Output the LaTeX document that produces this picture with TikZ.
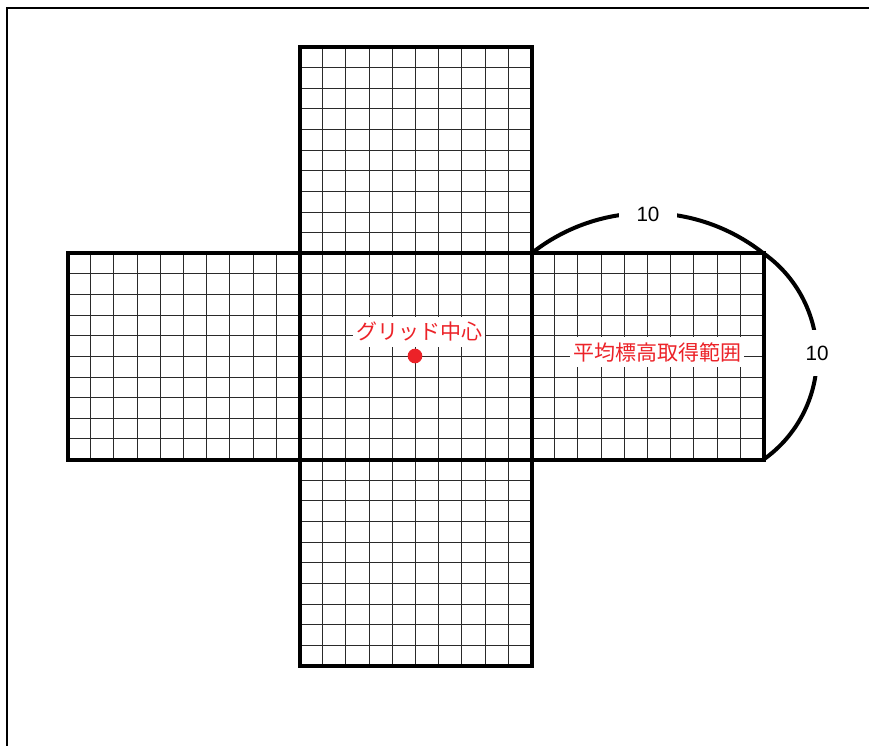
\documentclass[tikz,border=0pt]{standalone}
\usepackage{fontspec}
\setmainfont{Liberation Sans}
\newfontfamily\jpfont{Noto Sans CJK JP}
\usetikzlibrary{calc,positioning}
\definecolor{MarkRed}{HTML}{EC2228}
\definecolor{GridGray}{HTML}{2A2A2A}
\tikzset{
  gridline/.style={draw=GridGray, line width=0.75pt},
  blockline/.style={draw=black, line width=3pt},
  measure/.style={draw=black, line width=3pt},
  lengthlabel/.style={fill=white, font=\fontsize{15.5}{18}\selectfont},
  arealabel/.style={fill=white, text=MarkRed, inner xsep=2pt, inner ysep=4pt,
    font=\jpfont\fontsize{15.75}{18}\selectfont},
  centerdot/.style={circle, fill=MarkRed, inner sep=0pt, minimum size=11pt}
}

\begin{document}
\begin{tikzpicture}[x=0.75pt,y=0.75pt]
  \useasboundingbox (0,0) rectangle (869,-746);
  \draw[line width=1.5pt] (6.5,-746) -- (6.5,-8) -- (869,-8);

  \foreach \bx/\by in {299.5/47, 67.5/253.3, 299.5/253.3, 531.5/253.3, 299.5/459.6} {
    \foreach \k in {1,...,9} {
      \draw[gridline] (\bx+\k*23.2,-\by) -- ++(0,-206.3);
      \draw[gridline] (\bx,-\by-\k*20.63) -- ++(232,0);
    }
  }
  \foreach \bx/\by in {299.5/47, 67.5/253.3, 299.5/253.3, 531.5/253.3, 299.5/459.6} {
    \draw[blockline] (\bx,-\by) rectangle ++(232,-206.3);
  }

  \coordinate (arcTop) at (531.5,-253.3);
  \coordinate (arcSide) at (763.5,-253.3);
  \draw[measure] (arcTop) arc[start angle=128.3, end angle=51.7, radius=187.1];
  \draw[measure] (arcSide) arc[start angle=54.8, end angle=-54.8, radius=126.2];
  \node[lengthlabel, inner xsep=12.8pt, inner ysep=3pt] (lenTop) at (648,-214) {10};
  \node[lengthlabel, inner xsep=3pt, inner ysep=12pt] (lenSide) at (817,-353) {10};

  \node[centerdot] (gridCenter) at (415,-356) {};
  \node[arealabel] (centerLabel) at (419,-332) {グリッド中心};
  \node[arealabel] (rangeLabel) at (657,-352) {平均標高取得範囲};
\end{tikzpicture}
\end{document}
